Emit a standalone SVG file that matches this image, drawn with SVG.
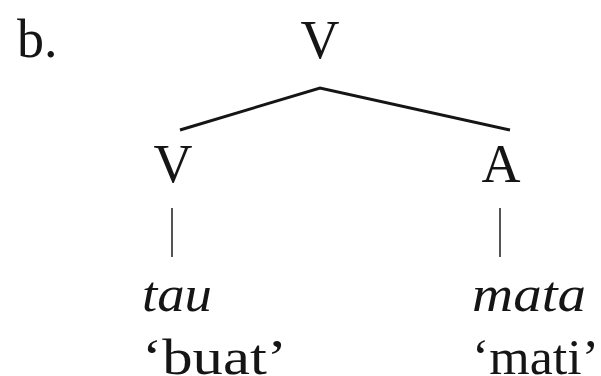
<svg xmlns="http://www.w3.org/2000/svg" width="601" height="376" viewBox="0 0 601 376">
<style>
text{font-family:"Liberation Serif","Times New Roman",serif;font-size:54px;fill:#151515}
.w{font-size:51px}
.it{font-style:italic}
.edge{stroke:#151515;stroke-width:3;fill:none;stroke-linejoin:miter}
.stem{stroke:#555;stroke-width:2}
</style>
<rect width="601" height="376" fill="#fff"/>
<text x="17" y="57">b.</text>
<g id="root"><text x="320" y="58" text-anchor="middle">V</text></g>
<g id="leftV"><text x="173" y="182" text-anchor="middle">V</text></g>
<g id="rightA"><text x="501" y="182" text-anchor="middle">A</text></g>
<g id="tau"><text class="w it" x="142" y="311" textLength="70" lengthAdjust="spacingAndGlyphs">tau</text>
<text class="w" x="142" y="374" textLength="145" lengthAdjust="spacingAndGlyphs">‘buat’</text></g>
<g id="mata"><text class="w it" x="472" y="311" textLength="114" lengthAdjust="spacingAndGlyphs">mata</text>
<text class="w" x="472" y="374" textLength="127" lengthAdjust="spacingAndGlyphs">‘mati’</text></g>
<g id="connectors">
<polyline class="edge" points="180,130 320,88 510,130"/>
<line class="stem" x1="172" y1="208" x2="172" y2="257"/>
<line class="stem" x1="500" y1="208" x2="500" y2="257"/>
</g>
</svg>
